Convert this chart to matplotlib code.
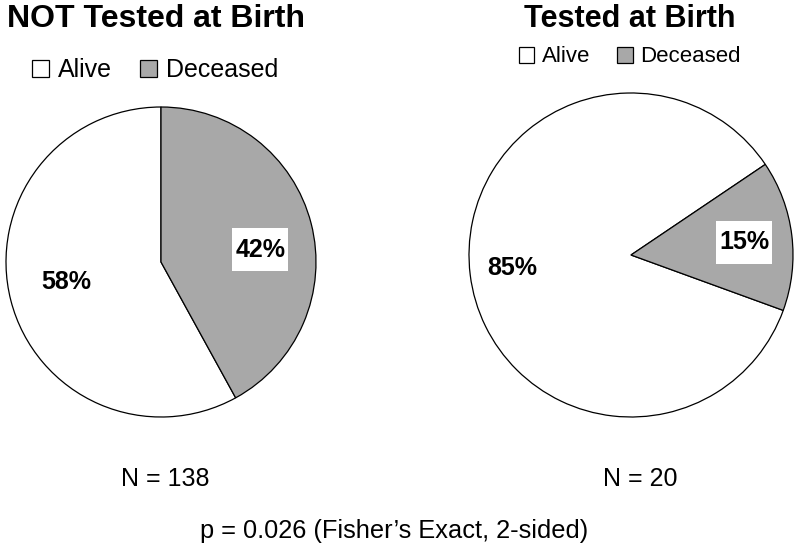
import matplotlib.pyplot as plt
from matplotlib.path import Path

plt.rcParams['font.family'] = ['Liberation Sans', 'DejaVu Sans']

# data
status = ["Alive", "Deceased"]
not_tested = [58, 42]
tested = [85, 15]
n_not_tested = 138
n_tested = 20
p_value = 0.026

colors = ["white", "#a8a8a8"]

fig = plt.figure(figsize=(8, 5.52), dpi=100)
W, H = 800, 552


def tall_box(x0, y0, width, height, mutation_size):
    # white label box, narrow at the sides, tall above and below
    px = 0.12 * mutation_size
    py = 0.38 * mutation_size
    x0, x1 = x0 - px, x0 + width + px
    y0, y1 = y0 - py, y0 + height + py
    return Path([(x0, y0), (x1, y0), (x1, y1), (x0, y1), (x0, y0)], closed=True)


def pie_axes(cx, cy, r):
    ax = fig.add_axes([(cx - r) / W, 1 - (cy + r) / H, 2 * r / W, 2 * r / H])
    ax.axis("off")
    return ax


def finish(ax):
    ax.set_xlim(-1, 1)
    ax.set_ylim(-1, 1)
    ax.set_aspect("equal")


# left pie: NOT tested
ax1 = pie_axes(161, 262, 155)
w1, t1, a1 = ax1.pie(not_tested, colors=colors, startangle=90, radius=1,
                     autopct="%d%%", pctdistance=0.63,
                     wedgeprops=dict(edgecolor="black", linewidth=0.9),
                     textprops=dict(fontsize=18, fontweight="bold"))
finish(ax1)
a1[0].set_position((-0.61, -0.13))
a1[1].set_position((0.64, 0.08))
a1[1].set_bbox(dict(facecolor="white", edgecolor="none", boxstyle=tall_box))

# right pie: tested
ax2 = pie_axes(631, 255, 162)
w2, t2, a2 = ax2.pie(tested, colors=colors, startangle=34, radius=1,
                     autopct="%d%%", pctdistance=0.72,
                     wedgeprops=dict(edgecolor="black", linewidth=0.9),
                     textprops=dict(fontsize=18, fontweight="bold"))
finish(ax2)
a2[0].set_position((-0.73, -0.08))
a2[1].set_position((0.70, 0.08))
a2[1].set_bbox(dict(facecolor="white", edgecolor="none", boxstyle=tall_box))

# titles
fig.text(7 / W, 1 - 19 / H, "NOT Tested at Birth", fontsize=23, fontweight="bold",
         ha="left", va="center")
fig.text(630 / W, 1 - 19 / H, "Tested at Birth", fontsize=22, fontweight="bold",
         ha="center", va="center")

# legends
fig.legend(w1, status, loc="center", bbox_to_anchor=(155 / W, 1 - 70 / H),
           ncol=2, frameon=False, fontsize=18, handlelength=0.7, handleheight=0.7,
           handletextpad=0.35, columnspacing=1.1)
fig.legend(w2, status, loc="center", bbox_to_anchor=(630 / W, 1 - 57 / H),
           ncol=2, frameon=False, fontsize=16, handlelength=0.7, handleheight=0.7,
           handletextpad=0.35, columnspacing=1.2)

# sample sizes and p value
fig.text(165 / W, 1 - 479 / H, f"N = {n_not_tested}", fontsize=18, ha="center", va="center")
fig.text(640 / W, 1 - 479 / H, f"N = {n_tested}", fontsize=18, ha="center", va="center")
fig.text(394 / W, 1 - 531 / H, f"p = {p_value} (Fisher\u2019s Exact, 2-sided)",
         fontsize=18.3, ha="center", va="center")

plt.savefig("out.png", dpi=100)
plt.close()
